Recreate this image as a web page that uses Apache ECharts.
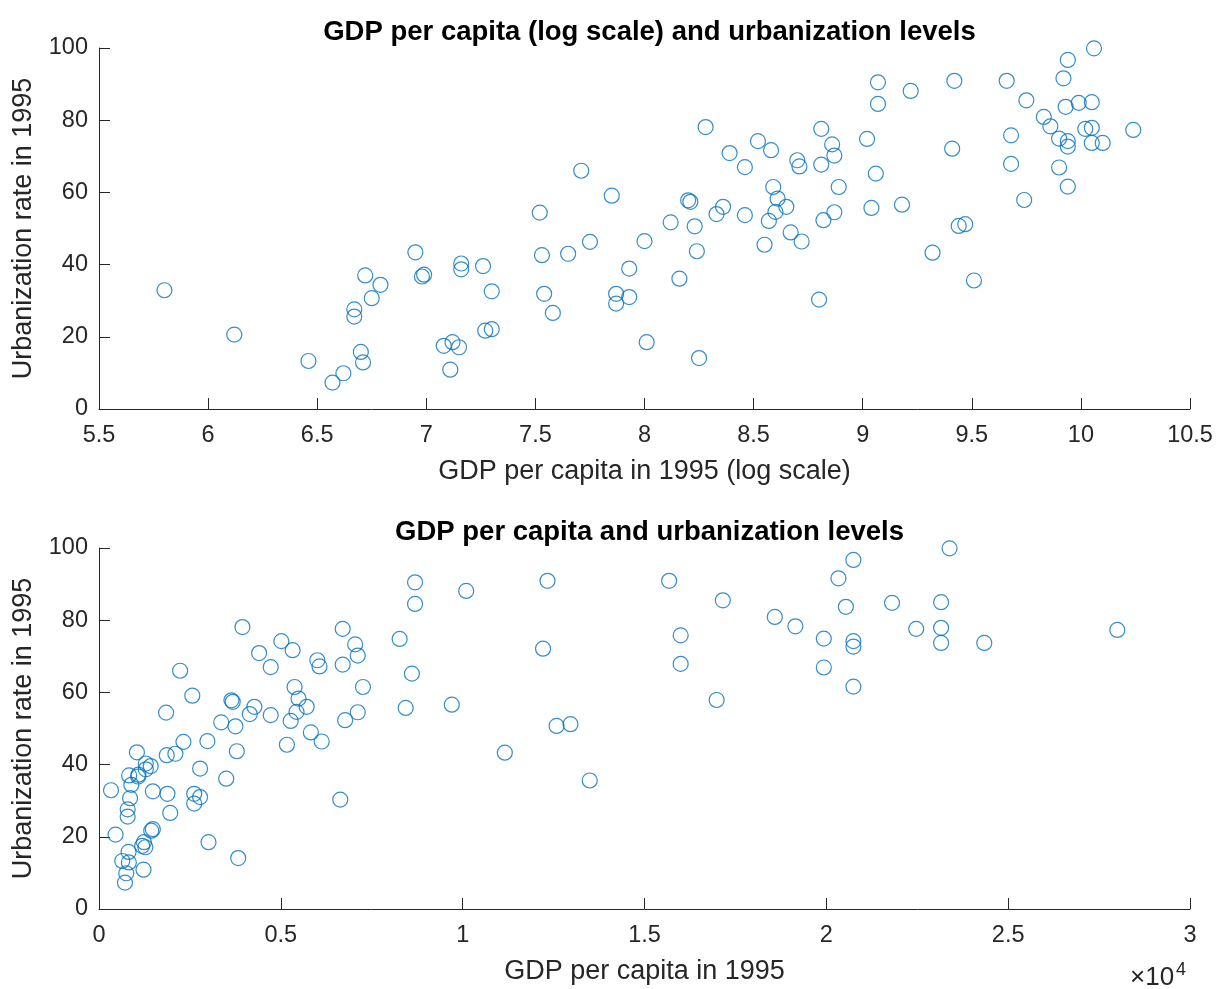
<!DOCTYPE html>
<html>
<head>
<meta charset="utf-8">
<script src="https://cdn.jsdelivr.net/npm/echarts@6/dist/echarts.min.js"></script>
<style>
  html, body { margin: 0; padding: 0; background: #fff; }
  #chart { width: 1217px; height: 989px; }
</style>
</head>
<body>
<div id="chart"></div>
<script>
// log of GDP per capita in 1995
const logGdp = [
  5.80, 6.12, 6.46, 6.57, 6.62, 6.67, 6.67, 6.70, 6.71, 6.72,
  6.75, 6.79, 6.95, 6.98, 6.99, 7.08, 7.11, 7.12, 7.15, 7.16,
  7.16, 7.26, 7.27, 7.30, 7.30, 7.52, 7.53, 7.54, 7.58, 7.65,
  7.71, 7.75, 7.85, 7.87, 7.87, 7.93, 7.93, 8.00, 8.01, 8.12,
  8.16, 8.20, 8.21, 8.23, 8.24, 8.25, 8.28, 8.33, 8.36, 8.39,
  8.46, 8.46, 8.52, 8.55, 8.57, 8.58, 8.59, 8.60, 8.61, 8.65,
  8.67, 8.70, 8.71, 8.72, 8.80, 8.81, 8.81, 8.82, 8.86, 8.87,
  8.87, 8.89, 9.02, 9.04, 9.06, 9.07, 9.07, 9.18, 9.22, 9.32,
  9.41, 9.42, 9.44, 9.47, 9.51, 9.66, 9.68, 9.68, 9.74, 9.75,
  9.83, 9.86, 9.90, 9.90, 9.92, 9.93, 9.94, 9.94, 9.94, 9.94,
  9.99, 10.02, 10.05, 10.05, 10.05, 10.06, 10.10, 10.24
];

// urbanization rate in 1995 (%)
const urban = [
  32.9, 20.6, 13.3, 7.3, 9.9, 27.6, 25.6, 15.8, 12.9, 37.0,
  30.7, 34.4, 43.4, 36.7, 37.2, 17.5, 10.9, 18.5, 17.1, 40.3,
  38.7, 39.6, 21.7, 22.1, 32.6, 54.4, 42.6, 31.9, 26.6, 43.0,
  66.0, 46.3, 59.1, 31.9, 29.2, 31.0, 38.9, 46.5, 18.5, 51.7,
  36.1, 57.8, 57.4, 50.6, 43.7, 14.1, 78.1, 54.0, 56.0, 70.9,
  67.0, 53.7, 74.2, 45.5, 52.1, 71.7, 61.5, 54.6, 58.3, 56.0,
  48.9, 68.9, 67.2, 46.4, 30.3, 67.7, 77.6, 52.3, 73.3, 70.2,
  54.5, 61.5, 74.8, 55.7, 65.2, 90.5, 84.5, 56.6, 88.1, 43.3,
  72.1, 90.9, 50.7, 51.2, 35.6, 90.9, 67.9, 75.8, 57.9, 85.5,
  80.9, 78.3, 74.9, 66.9, 91.6, 83.7, 96.7, 74.2, 72.7, 61.6,
  84.8, 77.6, 77.9, 85.0, 73.7, 99.9, 73.7, 77.3
];

const titles = [
  'GDP per capita (log scale) and urbanization levels',
  'GDP per capita and urbanization levels'
];
const xNames = ['GDP per capita in 1995 (log scale)', 'GDP per capita in 1995'];
const yName = 'Urbanization rate in 1995';

const logPoints = logGdp.map((v, i) => [v, urban[i]]);
const levelPoints = logGdp.map((v, i) => [Math.exp(v), urban[i]]);

const chart = echarts.init(document.getElementById('chart'), null, { renderer: 'canvas' });

const font = '"Liberation Sans", Arial, Helvetica, sans-serif';
const ink = '#262626';

function xAxis(idx, min, max, interval, name, fmt) {
  return {
    gridIndex: idx,
    type: 'value',
    min: min,
    max: max,
    interval: interval,
    name: name,
    nameLocation: 'middle',
    nameGap: 49,
    nameTextStyle: { color: ink, fontSize: 27, fontFamily: font },
    axisLine: { show: true, lineStyle: { color: ink, width: 1 } },
    axisTick: { show: true, inside: true, length: 11, lineStyle: { color: ink } },
    axisLabel: { color: ink, fontSize: 23.5, fontFamily: font, margin: 15, formatter: fmt },
    splitLine: { show: false }
  };
}

function yAxis(idx) {
  return {
    gridIndex: idx,
    type: 'value',
    min: 0,
    max: 100,
    interval: 20,
    name: yName,
    nameLocation: 'middle',
    nameGap: 62,
    nameTextStyle: { color: ink, fontSize: 27, fontFamily: font },
    axisLine: { show: true, lineStyle: { color: ink, width: 1 } },
    axisTick: { show: true, inside: true, length: 11, lineStyle: { color: ink } },
    axisLabel: { color: ink, fontSize: 23.5, fontFamily: font, margin: 11 },
    splitLine: { show: false }
  };
}

function scatter(idx, data) {
  return {
    type: 'scatter',
    xAxisIndex: idx,
    yAxisIndex: idx,
    data: data,
    symbol: 'circle',
    symbolSize: 15,
    itemStyle: { color: 'rgba(0,0,0,0)', borderColor: '#0072BD', borderWidth: 1.2 },
    silent: true
  };
}

chart.setOption({
  backgroundColor: '#fff',
  animation: false,
  title: [
    {
      text: titles[0], left: 644.5, top: 13, textAlign: 'center',
      textStyle: { color: '#000', fontSize: 27.5, fontWeight: 'bold', fontFamily: font }
    },
    {
      text: titles[1], left: 644.5, top: 513, textAlign: 'center',
      textStyle: { color: '#000', fontSize: 27.5, fontWeight: 'bold', fontFamily: font }
    }
  ],
  grid: [
    { left: 99, top: 48, width: 1091, height: 361 },
    { left: 99, top: 548, width: 1091, height: 361 }
  ],
  xAxis: [
    xAxis(0, 5.5, 10.5, 0.5, xNames[0], v => String(v)),
    xAxis(1, 0, 30000, 5000, xNames[1], v => String(v / 10000))
  ],
  yAxis: [yAxis(0), yAxis(1)],
  series: [scatter(0, logPoints), scatter(1, levelPoints)],
  graphic: [
    {
      type: 'text', left: 1130, top: 961,
      style: {
        text: '{a|×10}{b|4}',
        rich: {
          a: { fontSize: 26, fontFamily: font, fill: ink, color: ink },
          b: { fontSize: 18, fontFamily: font, fill: ink, color: ink, padding: [0, 0, 16, 2] }
        }
      }
    }
  ]
});
</script>
</body>
</html>
